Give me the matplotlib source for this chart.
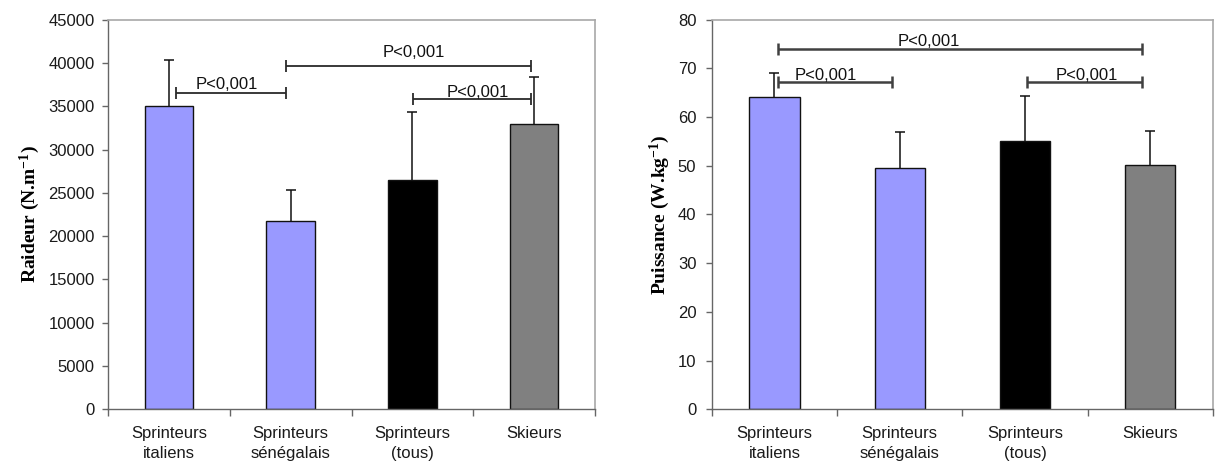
import matplotlib
matplotlib.use("Agg")
import matplotlib.pyplot as plt
import numpy as np

plt.rcParams['font.family'] = ['Liberation Sans', 'DejaVu Sans']
plt.rcParams['mathtext.fontset'] = 'custom'
plt.rcParams['mathtext.rm'] = 'Liberation Serif'
plt.rcParams['mathtext.bf'] = 'Liberation Serif:bold'
plt.rcParams['mathtext.default'] = 'bf'

# Groups
categories = ["Sprinteurs\nitaliens", "Sprinteurs\nsénégalais", "Sprinteurs\n(tous)", "Skieurs"]
bar_colors = ["#9999FF", "#9999FF", "#000000", "#808080"]

# Leg stiffness (N.m-1): mean and standard deviation
raideur_mean = [35000, 21700, 26500, 33000]
raideur_sd = [5300, 3600, 7800, 5400]

# Power (W.kg-1): mean and standard deviation
puissance_mean = [64.1, 49.6, 55.0, 50.2]
puissance_sd = [4.9, 7.3, 9.4, 7.0]

# Significance brackets: (x start, x end, level)
raideur_brackets = [(0.06, 0.965, 36500), (0.965, 2.975, 39700), (2.006, 2.975, 35800)]
puissance_brackets = [(0.03, 2.93, 74.0), (0.03, 0.94, 67.2), (2.015, 2.93, 67.2)]
# Significance labels: (x centre, baseline)
raideur_labels = [(0.475, 37000), (2.015, 40700), (2.54, 36070)]
puissance_labels = [(1.23, 74.6), (0.41, 67.7), (2.49, 67.7)]
p_text = "P<0,001"

W, H = 1215, 463
fig = plt.figure(figsize=(W / 100, H / 100), dpi=100)
ax1 = fig.add_axes([108.2 / W, 53.7 / H, 486.8 / W, 389.6 / H])
ax2 = fig.add_axes([711.8 / W, 53.7 / H, 501.2 / W, 389.6 / H])


def draw_panel(ax, means, sds, brackets, labels, ymax, ystep, ylabel,
               label_x, ytick_pad, bracket_color, bracket_lw):
    x = np.arange(len(categories))
    means = np.asarray(means, dtype=float)
    tops = means + np.asarray(sds, dtype=float)
    ax.bar(x, means, width=0.4, color=bar_colors, edgecolor="#111111",
           linewidth=1.0, zorder=2)
    # upper-only error bars
    ax.vlines(x, means, tops, color="#111111", lw=1.1, zorder=3)
    ax.plot(x, tops, ls="none", marker="_", ms=7, mew=1.1, color="#111111",
            zorder=3)
    for x0, x1, yv in brackets:
        ax.plot([x0, x1], [yv, yv], color=bracket_color, lw=bracket_lw,
                solid_capstyle="butt", zorder=4)
        ax.plot([x0, x1], [yv, yv], ls="none", marker="|", ms=8,
                mew=bracket_lw, color=bracket_color, zorder=4)
    for xt, yt in labels:
        ax.text(xt, yt, p_text, ha="center", va="baseline", fontsize=12,
                color="#111111", zorder=5)

    ax.set_xlim(-0.5, len(categories) - 0.5)
    ax.set_ylim(0, ymax)
    ax.set_yticks(np.arange(0, ymax + ystep / 2, ystep))
    ax.set_xticks(x)
    ax.set_xticklabels(categories, fontsize=12, linespacing=1.4)
    ax.set_xticks(np.arange(-0.5, len(categories)), minor=True)
    ax.tick_params(axis="x", which="major", length=0, pad=12)
    ax.tick_params(axis="x", which="minor", length=5, width=1,
                   color="#666666", direction="out")
    ax.tick_params(axis="y", length=4.6, width=1, color="#666666",
                   labelsize=12, pad=ytick_pad, direction="out")
    for lbl in ax.get_yticklabels() + ax.get_xticklabels():
        lbl.set_color("#1a1a1a")

    for s in ("left", "bottom"):
        ax.spines[s].set_color("#666666")
        ax.spines[s].set_linewidth(1.0)
    for s in ("top", "right"):
        ax.spines[s].set_color("#a8a8a8")
        ax.spines[s].set_linewidth(1.2)

    ax.set_ylabel(ylabel, fontsize=14, fontweight="bold",
                  family=["Liberation Serif"], va="center")
    ax.yaxis.set_label_coords(label_x, 0.5)


draw_panel(ax1, raideur_mean, raideur_sd, raideur_brackets, raideur_labels,
           45000, 5000, r"Raideur (N.m$^{-1}$)", (30 - 108.2) / 486.8, 5,
           "#2a2a2a", 1.3)
draw_panel(ax2, puissance_mean, puissance_sd, puissance_brackets, puissance_labels,
           80, 10, r"Puissance (W.kg$^{-1}$)", (660 - 711.8) / 501.2, 6.5,
           "#404040", 1.8)

fig.savefig("out.png", dpi=100)
